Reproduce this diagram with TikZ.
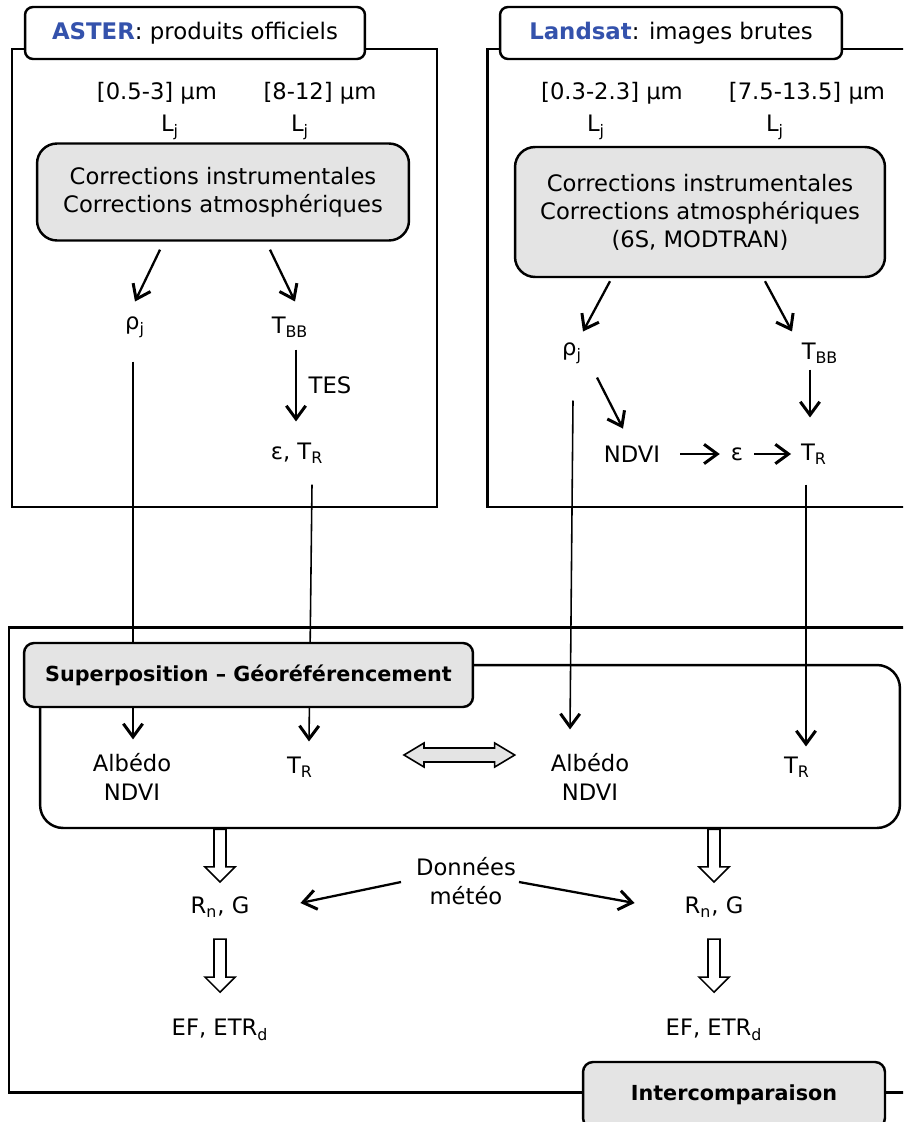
\documentclass[tikz,border=0pt]{standalone}
\usepackage{fontspec}
\setmainfont{DejaVu Sans}
\usetikzlibrary{positioning,arrows.meta,calc}
\definecolor{Blue}{RGB}{52,82,172}
\definecolor{Grey}{RGB}{228,228,228}
\newcommand{\fatarrow}[2]{\draw[fat] ($(#1)+(-6,0)$) -- ($(#2)+(-6,-15)$) -- ($(#2)+(-15,-15)$) -- (#2) -- ($(#2)+(15,-15)$) -- ($(#2)+(6,-15)$) -- ($(#1)+(6,0)$) -- cycle;}
\newcommand{\dblarrow}[2]{\draw[dbl] (#1) -- ($(#1)+(20,-12)$) -- ($(#1)+(20,-7)$) -- ($(#2)+(-20,-7)$) -- ($(#2)+(-20,-12)$) -- (#2) -- ($(#2)+(-20,12)$) -- ($(#2)+(-20,7)$) -- ($(#1)+(20,7)$) -- ($(#1)+(20,12)$) -- cycle;}

\begin{document}
\begin{tikzpicture}[x=0.02cm,y=-0.02cm,
 t/.style={font=\fontsize{12.9}{16.4}\selectfont,inner sep=1pt,align=center},
 ttl/.style={draw,line width=1.4pt,rounded corners=.16cm,fill=white,minimum height=1.04cm,font=\fontsize{13}{16}\selectfont},
 g/.style={draw,line width=1.4pt,rounded corners=.4cm,fill=Grey,align=center,font=\fontsize{12.9}{16}\selectfont},
 bx/.style={draw,line width=1.4pt,rounded corners=.2cm,fill=Grey,font=\fontsize{11.8}{14}\selectfont\bfseries},
 frm/.style={line width=1.7pt},
 a/.style={-{Straight Barb[length=7.5pt,width=11pt,line width=1.7pt]},line width=1.3pt},
 l/.style={-{Straight Barb[length=7.5pt,width=11pt,line width=1.7pt]},line width=.9pt},
 fat/.style={line width=.9pt,fill=white,line join=miter},
 dbl/.style={line width=.9pt,fill=Grey}]
\useasboundingbox (0,0) rectangle (903,1122);
\clip (0,0) rectangle (903,1122);
% frames
\draw[frm] (12,49) rectangle (437,507);
\draw[frm] (920,49) -- (487,49) -- (487,507) -- (920,507);
\draw[frm] (920,627) -- (9,627) -- (9,1092) -- (920,1092);
\node[draw,line width=1.4pt,rounded corners=.46cm,minimum width=17.2cm,minimum height=3.26cm] (res) at (470,746.5) {};
\node[ttl,minimum width=6.8cm] (ta) at (195,33) {\textcolor{Blue}{\textbf{ASTER}}: produits officiels};
\node[ttl,minimum width=6.84cm] (tl) at (671,33) {\textcolor{Blue}{\textbf{Landsat}}: images brutes};
% ASTER
\node[t] (wa1) at (157,93) {[0.5-3] µm};
\node[t] (wa2) at (320,93) {[8-12] µm};
\node[t] (la1) at (170,127) {L\textsubscript{j}};
\node[t] (la2) at (300,127) {L\textsubscript{j}};
\node[g,minimum width=7.44cm,minimum height=1.94cm] (ca) at (223,192) {Corrections instrumentales\\Corrections atmosphériques};
\node[t] (ra) at (135,327) {ρ\textsubscript{j}};
\node[t] (ba) at (290,327) {T\textsubscript{BB}};
\node[t] (tes) at (330,385) {TES};
\node[t] (ea) at (297,453) {ε, T\textsubscript{R}};
\draw[a] ([shift={(-63,8)}]ca.south) -- ([shift={(0,-13)}]ra.north);
\draw[a] ([shift={(47,8)}]ca.south) -- ([shift={(5,-13)}]ba.north);
\draw[a] ([shift={(6,10)}]ba.south) -- ([shift={(-1,-19)}]ea.north);
% Landsat
\node[t] (wl1) at (612,93) {[0.3-2.3] µm};
\node[t] (wl2) at (807,93) {[7.5-13.5] µm};
\node[t] (ll1) at (596,127) {L\textsubscript{j}};
\node[t] (ll2) at (775,127) {L\textsubscript{j}};
\node[g,minimum width=7.4cm,minimum height=2.6cm] (cl) at (700,212) {Corrections instrumentales\\Corrections atmosphériques\\(6S, MODTRAN)};
\node[t] (rl) at (572,353) {ρ\textsubscript{j}};
\node[t] (bl) at (820,353) {T\textsubscript{BB}};
\node[t] (nl) at (632,454) {NDVI};
\node[t] (el) at (737,454) {ε};
\node[t] (trl) at (814,454) {T\textsubscript{R}};
\draw[a] ([shift={(-90,3)}]cl.south) -- ([shift={(11,-9)}]rl.north);
\draw[a] ([shift={(65,3)}]cl.south) -- ([shift={(-28,-9)}]bl.north);
\draw[a] ([shift={(-10,4)}]bl.south) -- ([shift={(-4,-24)}]trl.north);
\draw[a] ([shift={(25,12)}]rl.south) -- ([shift={(-9,-15)}]nl.north);
\draw[a] ([shift={(18,0)}]nl.east) -- ([shift={(-9,0)}]el.west);
\draw[a] ([shift={(9,0)}]el.east) -- ([shift={(-8,0)}]trl.west);
% comparaison
\node[t] (albA) at (132,777) {Albédo\\NDVI};
\node[t] (trA) at (300,767) {T\textsubscript{R}};
\node[t] (albL) at (590,777) {Albédo\\NDVI};
\node[t] (trL) at (797,767) {T\textsubscript{R}};
\draw[l] ([shift={(-2,22)}]ra.south) -- ([shift={(1,-12)}]albA.north);
\draw[l] ([shift={(15,19)}]ea.south) -- ([shift={(9,-13)}]trA.north);
\draw[l] ([shift={(1,35)}]rl.south) -- ([shift={(-20,-22)}]albL.north);
\draw[l] ([shift={(-8,18)}]trl.south) -- ([shift={(9,-8)}]trL.north);
\coordinate (d1) at ([shift={(89,-12)}]trA.east);
\coordinate (d2) at ([shift={(-34,-22)}]albL.west);
\dblarrow{d1}{d2}
\node[t] (rnA) at (220,907) {R\textsubscript{n}, G};
\node[t] (rnL) at (714,907) {R\textsubscript{n}, G};
\node[t] (efA) at (220,1030) {EF, ETR\textsubscript{d}};
\node[t] (efL) at (714,1030) {EF, ETR\textsubscript{d}};
\node[t] (met) at (466,881) {Données\\météo};
\draw[a] ([shift={(-13,1)}]met.west) -- ([shift={(49,-4)}]rnA.east);
\draw[a] ([shift={(1,1)}]met.east) -- ([shift={(-48,-4)}]rnL.west);
\coordinate (h1) at (res.south -| rnA);
\coordinate (h2) at ([shift={(0,-13)}]rnA.north);
\coordinate (h3) at ([shift={(0,20)}]rnA.south);
\coordinate (h4) at ([shift={(0,-25)}]efA.north);
\coordinate (h5) at (res.south -| rnL);
\coordinate (h6) at ([shift={(0,-13)}]rnL.north);
\coordinate (h7) at ([shift={(0,20)}]rnL.south);
\coordinate (h8) at ([shift={(0,-25)}]efL.north);
\fatarrow{h1}{h2}
\fatarrow{h3}{h4}
\fatarrow{h5}{h6}
\fatarrow{h7}{h8}
\node[bx,minimum width=8.98cm,minimum height=1.28cm] (sup) at (248.5,675) {Superposition – Géoréférencement};
\node[bx,minimum width=6.04cm,minimum height=1.32cm] (inter) at (734,1095) {Intercomparaison};
\end{tikzpicture}
\end{document}
